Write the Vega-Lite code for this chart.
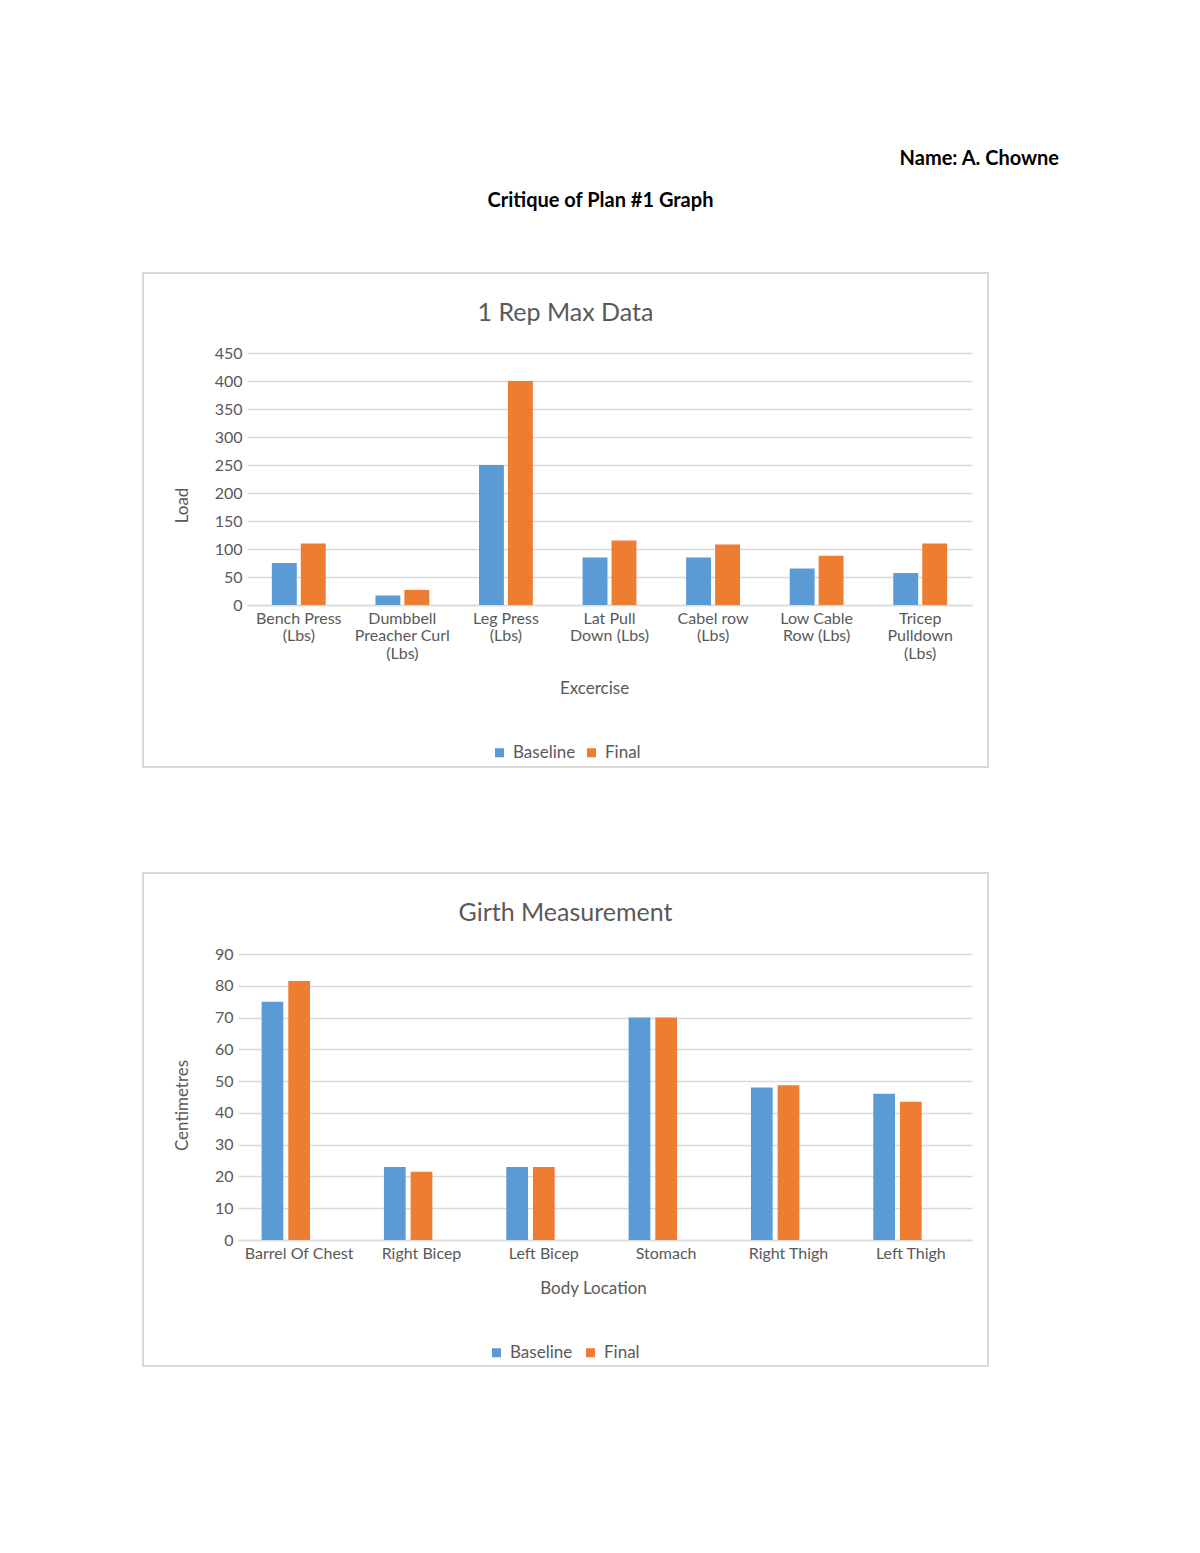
{
  "$schema": "https://vega.github.io/schema/vega-lite/v6.json",
  "background": "white",
  "padding": {"left": 142, "top": 149, "right": 0, "bottom": 0},
  "title": {"text": "Name: A. Chowne", "anchor": "end", "dx": 70, "fontSize": 20, "fontWeight": "bold", "font": "Lato", "color": "#000000", "offset": 22},
  "vconcat": [
    {
      "title": {"text": "Critique of Plan #1 Graph", "anchor": "middle", "dx": 35, "fontSize": 20, "fontWeight": "bold", "font": "Lato", "color": "#000000", "offset": 61},
      "spacing": 104,
      "resolve": {"scale": {"xOffset": "independent", "x": "independent", "y": "independent"}, "legend": {"color": "independent"}},
      "vconcat": [
        {
          "width": 845,
          "height": 494,
          "title": {"text": "1 Rep Max Data", "offset": -53, "fontSize": 25, "fontWeight": "normal", "color": "#595959", "anchor": "middle", "frame": "group"},
          "data": {"values": [
            {"exercise": "Bench Press (Lbs)", "series": "Baseline", "load": 75},
            {"exercise": "Bench Press (Lbs)", "series": "Final", "load": 110},
            {"exercise": "Dumbbell Preacher Curl (Lbs)", "series": "Baseline", "load": 17},
            {"exercise": "Dumbbell Preacher Curl (Lbs)", "series": "Final", "load": 27},
            {"exercise": "Leg Press (Lbs)", "series": "Baseline", "load": 250},
            {"exercise": "Leg Press (Lbs)", "series": "Final", "load": 400},
            {"exercise": "Lat Pull Down (Lbs)", "series": "Baseline", "load": 85},
            {"exercise": "Lat Pull Down (Lbs)", "series": "Final", "load": 115},
            {"exercise": "Cabel row (Lbs)", "series": "Baseline", "load": 85},
            {"exercise": "Cabel row (Lbs)", "series": "Final", "load": 108},
            {"exercise": "Low Cable Row (Lbs)", "series": "Baseline", "load": 65},
            {"exercise": "Low Cable Row (Lbs)", "series": "Final", "load": 88},
            {"exercise": "Tricep Pulldown (Lbs)", "series": "Baseline", "load": 57},
            {"exercise": "Tricep Pulldown (Lbs)", "series": "Final", "load": 110}
          ]},
          "mark": {"type": "bar"},
          "encoding": {
            "x": {
              "field": "exercise", "type": "nominal", "sort": null,
              "scale": {"range": [104, 829], "paddingInner": 0.48, "paddingOuter": 0.24},
              "axis": {
                "offset": -162, "domainColor": "#d9d9d9", "domainWidth": 1.5, "ticks": false, "grid": false,
                "labelAngle": 0, "labelPadding": 5, "labelFontSize": 16, "labelLineHeight": 17.5, "labelColor": "#595959", "labelBaseline": "top",
                "labelExpr": "datum.value == 'Dumbbell Preacher Curl (Lbs)' ? ['Dumbbell', 'Preacher Curl', '(Lbs)'] : datum.value == 'Tricep Pulldown (Lbs)' ? ['Tricep', 'Pulldown', '(Lbs)'] : datum.value == 'Lat Pull Down (Lbs)' ? ['Lat Pull', 'Down (Lbs)'] : datum.value == 'Low Cable Row (Lbs)' ? ['Low Cable', 'Row (Lbs)'] : split(replace(datum.value, ' (Lbs)', '|(Lbs)'), '|')",
                "title": "Excercise", "titleFontSize": 17, "titleFontWeight": "normal", "titleColor": "#595959",
                "titleX": 451, "titleY": 83, "titleBaseline": "middle", "titleAlign": "center"
              }
            },
            "xOffset": {"field": "series", "type": "nominal", "scale": {"domain": ["Baseline", "Final"], "paddingInner": 0.14, "paddingOuter": 0}},
            "y": {
              "field": "load", "type": "quantitative",
              "scale": {"domain": [0, 450], "range": [332, 80], "nice": false},
              "axis": {
                "values": [0, 50, 100, 150, 200, 250, 300, 350, 400, 450],
                "offset": -104, "domain": false, "ticks": false, "labelPadding": 5, "labelFontSize": 16, "labelColor": "#595959",
                "gridColor": "#d9d9d9", "gridWidth": 1.5,
                "title": "Load", "titleFontSize": 17, "titleFontWeight": "normal", "titleColor": "#595959",
                "titleX": -65, "titleY": 232, "titleBaseline": "middle", "titleAlign": "center", "titleAngle": -90
              }
            },
            "color": {
              "field": "series", "type": "nominal",
              "scale": {"domain": ["Baseline", "Final"], "range": ["#5B9BD5", "#ED7D31"]},
              "legend": {"orient": "none", "legendX": 348, "legendY": 471, "direction": "horizontal", "title": null, "symbolType": "square", "symbolSize": 81, "symbolStrokeWidth": 0, "labelFontSize": 17, "labelColor": "#595959", "columnPadding": 7, "labelOffset": 5}
            }
          }
        },
        {
          "width": 845,
          "height": 493,
          "title": {"text": "Girth Measurement", "offset": -53, "fontSize": 25, "fontWeight": "normal", "color": "#595959", "anchor": "middle", "frame": "group"},
          "data": {"values": [
            {"location": "Barrel Of Chest", "series": "Baseline", "cm": 75},
            {"location": "Barrel Of Chest", "series": "Final", "cm": 81.5},
            {"location": "Right Bicep", "series": "Baseline", "cm": 23},
            {"location": "Right Bicep", "series": "Final", "cm": 21.5},
            {"location": "Left Bicep", "series": "Baseline", "cm": 23},
            {"location": "Left Bicep", "series": "Final", "cm": 23},
            {"location": "Stomach", "series": "Baseline", "cm": 70},
            {"location": "Stomach", "series": "Final", "cm": 70},
            {"location": "Right  Thigh", "series": "Baseline", "cm": 48},
            {"location": "Right  Thigh", "series": "Final", "cm": 48.7},
            {"location": "Left Thigh", "series": "Baseline", "cm": 46},
            {"location": "Left Thigh", "series": "Final", "cm": 43.5}
          ]},
          "mark": {"type": "bar"},
          "encoding": {
            "x": {
              "field": "location", "type": "nominal", "sort": null,
              "scale": {"range": [95, 829], "paddingInner": 0.386, "paddingOuter": 0.193},
              "axis": {
                "offset": -126, "domainColor": "#d9d9d9", "domainWidth": 1.5, "ticks": false, "grid": false,
                "labelAngle": 0, "labelPadding": 5, "labelFontSize": 16, "labelColor": "#595959", "labelBaseline": "top",
                "title": "Body Location", "titleFontSize": 17, "titleFontWeight": "normal", "titleColor": "#595959",
                "titleX": 450, "titleY": 48, "titleBaseline": "middle", "titleAlign": "center"
              }
            },
            "xOffset": {"field": "series", "type": "nominal", "scale": {"domain": ["Baseline", "Final", "Series3"], "paddingInner": 0.187, "paddingOuter": 0}},
            "y": {
              "field": "cm", "type": "quantitative",
              "scale": {"domain": [0, 90], "range": [367, 81], "nice": false},
              "axis": {
                "values": [0, 10, 20, 30, 40, 50, 60, 70, 80, 90],
                "offset": -95, "domain": false, "ticks": false, "labelPadding": 5, "labelFontSize": 16, "labelColor": "#595959",
                "gridColor": "#d9d9d9", "gridWidth": 1.5,
                "title": "Centimetres", "titleFontSize": 17, "titleFontWeight": "normal", "titleColor": "#595959",
                "titleX": -56, "titleY": 232, "titleBaseline": "middle", "titleAlign": "center", "titleAngle": -90
              }
            },
            "color": {
              "field": "series", "type": "nominal",
              "scale": {"domain": ["Baseline", "Final"], "range": ["#5B9BD5", "#ED7D31"]},
              "legend": {"orient": "none", "legendX": 345, "legendY": 471, "direction": "horizontal", "title": null, "symbolType": "square", "symbolSize": 81, "symbolStrokeWidth": 0, "labelFontSize": 17, "labelColor": "#595959", "columnPadding": 9, "labelOffset": 5}
            }
          }
        }
      ]
    }
  ],
  "config": {
    "font": "Lato",
    "view": {"stroke": "#d9d9d9", "strokeWidth": 2},
    "axis": {"labelFont": "Lato", "titleFont": "Lato"},
    "legend": {"labelFont": "Lato"}
  }
}
